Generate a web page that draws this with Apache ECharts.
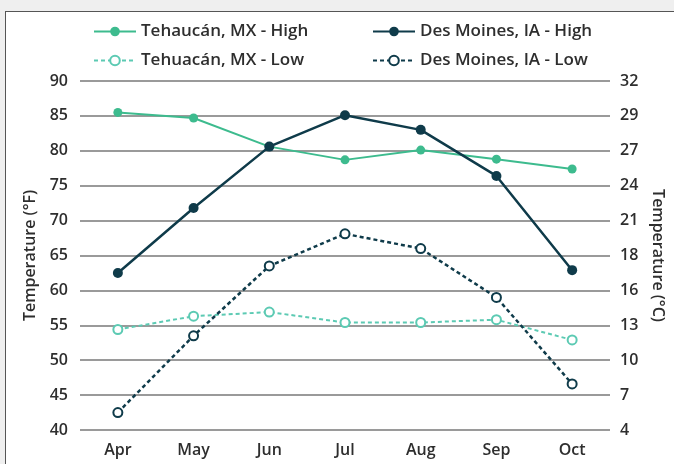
<!DOCTYPE html>
<html>
<head>
<meta charset="utf-8">
<script src="https://cdn.jsdelivr.net/npm/echarts@6/dist/echarts.min.js"></script>
<style>
  html, body { margin: 0; padding: 0; background: #efefef; }
  #frame {
    position: absolute; left: 5px; top: 11px; width: 700px; height: 500px;
    background: #fff; border-top: 1.5px solid #555; border-left: 1.5px solid #555;
  }
  #chart { position: absolute; left: 0; top: 0; width: 674px; height: 464px; }
</style>
</head>
<body>
<div id="frame"></div>
<div id="chart"></div>
<script>
const months = ['Apr', 'May', 'Jun', 'Jul', 'Aug', 'Sep', 'Oct'];
const tehuacanHigh = [85.5, 84.7, 80.6, 78.7, 80.1, 78.8, 77.4];
const tehuacanLow = [54.4, 56.3, 56.9, 55.4, 55.4, 55.8, 52.9];
const desMoinesHigh = [62.5, 71.8, 80.6, 85.1, 83.0, 76.4, 62.9];
const desMoinesLow = [42.5, 53.5, 63.5, 68.1, 66.0, 59.0, 46.6];
// right axis labels, degrees C for 40..90 °F
const celsiusTicks = ['4', '7', '10', '13', '16', '18', '21', '24', '27', '29', '32'];

const tehColor = '#3dbb8e';
const tehLowColor = '#5ccab3';
const dmColor = '#0f3b4a';
const font = 'Open Sans';
const textColor = '#2e2e2e';

const chart = echarts.init(document.getElementById('chart'));

const legendText = { color: textColor, fontSize: 17, fontFamily: font, fontWeight: 600 };
const labelText = { color: textColor, fontSize: 16, fontFamily: font, fontWeight: 600 };
const nameText = { color: textColor, fontSize: 16, fontFamily: font, fontWeight: 600 };

chart.setOption({
  backgroundColor: 'transparent',
  animation: false,
  legend: [
    {
      left: 88, top: 18, orient: 'vertical', itemGap: 12,
      itemWidth: 42, itemHeight: 12,
      data: ['Tehaucán, MX - High', 'Tehuacán, MX - Low'],
      textStyle: legendText,
    },
    {
      left: 367, top: 18, orient: 'vertical', itemGap: 12,
      itemWidth: 42, itemHeight: 12,
      data: ['Des Moines, IA - High', 'Des Moines, IA - Low'],
      textStyle: legendText,
    },
  ],
  grid: { left: 80, right: 64, top: 81, bottom: 34 },
  xAxis: {
    type: 'category',
    data: months,
    axisLine: { show: false },
    axisTick: { show: false },
    axisLabel: Object.assign({ margin: 12 }, labelText),
  },
  yAxis: [
    {
      type: 'value',
      min: 40, max: 90, interval: 5,
      name: 'Temperature (°F)',
      nameLocation: 'middle',
      nameGap: 42,
      nameTextStyle: nameText,
      axisLine: { show: false },
      axisTick: { show: false },
      axisLabel: Object.assign({ margin: 12 }, labelText),
      splitLine: { lineStyle: { color: '#9a9a9a', width: 1.8 } },
    },
    {
      type: 'value',
      position: 'right',
      min: 40, max: 90, interval: 5,
      name: 'Temperature (°C)',
      nameLocation: 'middle',
      nameGap: 38,
      nameRotate: -90,
      nameTextStyle: nameText,
      axisLine: { show: false },
      axisTick: { show: false },
      axisLabel: Object.assign({ margin: 10, formatter: (v, i) => celsiusTicks[i] }, labelText),
      splitLine: { show: false },
    },
  ],
  series: [
    {
      name: 'Tehaucán, MX - High',
      type: 'line',
      data: tehuacanHigh,
      symbol: 'circle',
      symbolSize: 9,
      lineStyle: { color: tehColor, width: 2 },
      itemStyle: { color: tehColor },
      z: 3,
    },
    {
      name: 'Des Moines, IA - High',
      type: 'line',
      data: desMoinesHigh,
      symbol: 'circle',
      symbolSize: 10,
      lineStyle: { color: dmColor, width: 2.5 },
      itemStyle: { color: dmColor },
      z: 4,
    },
    {
      name: 'Tehuacán, MX - Low',
      type: 'line',
      data: tehuacanLow,
      symbol: 'emptyCircle',
      symbolSize: 9,
      lineStyle: { color: tehLowColor, width: 2, type: [4, 3] },
      itemStyle: { color: tehLowColor, borderWidth: 2 },
      z: 3,
    },
    {
      name: 'Des Moines, IA - Low',
      type: 'line',
      data: desMoinesLow,
      symbol: 'emptyCircle',
      symbolSize: 9,
      lineStyle: { color: dmColor, width: 2.5, type: [4, 3] },
      itemStyle: { color: dmColor, borderWidth: 2 },
      z: 4,
    },
  ],
});
</script>
</body>
</html>
